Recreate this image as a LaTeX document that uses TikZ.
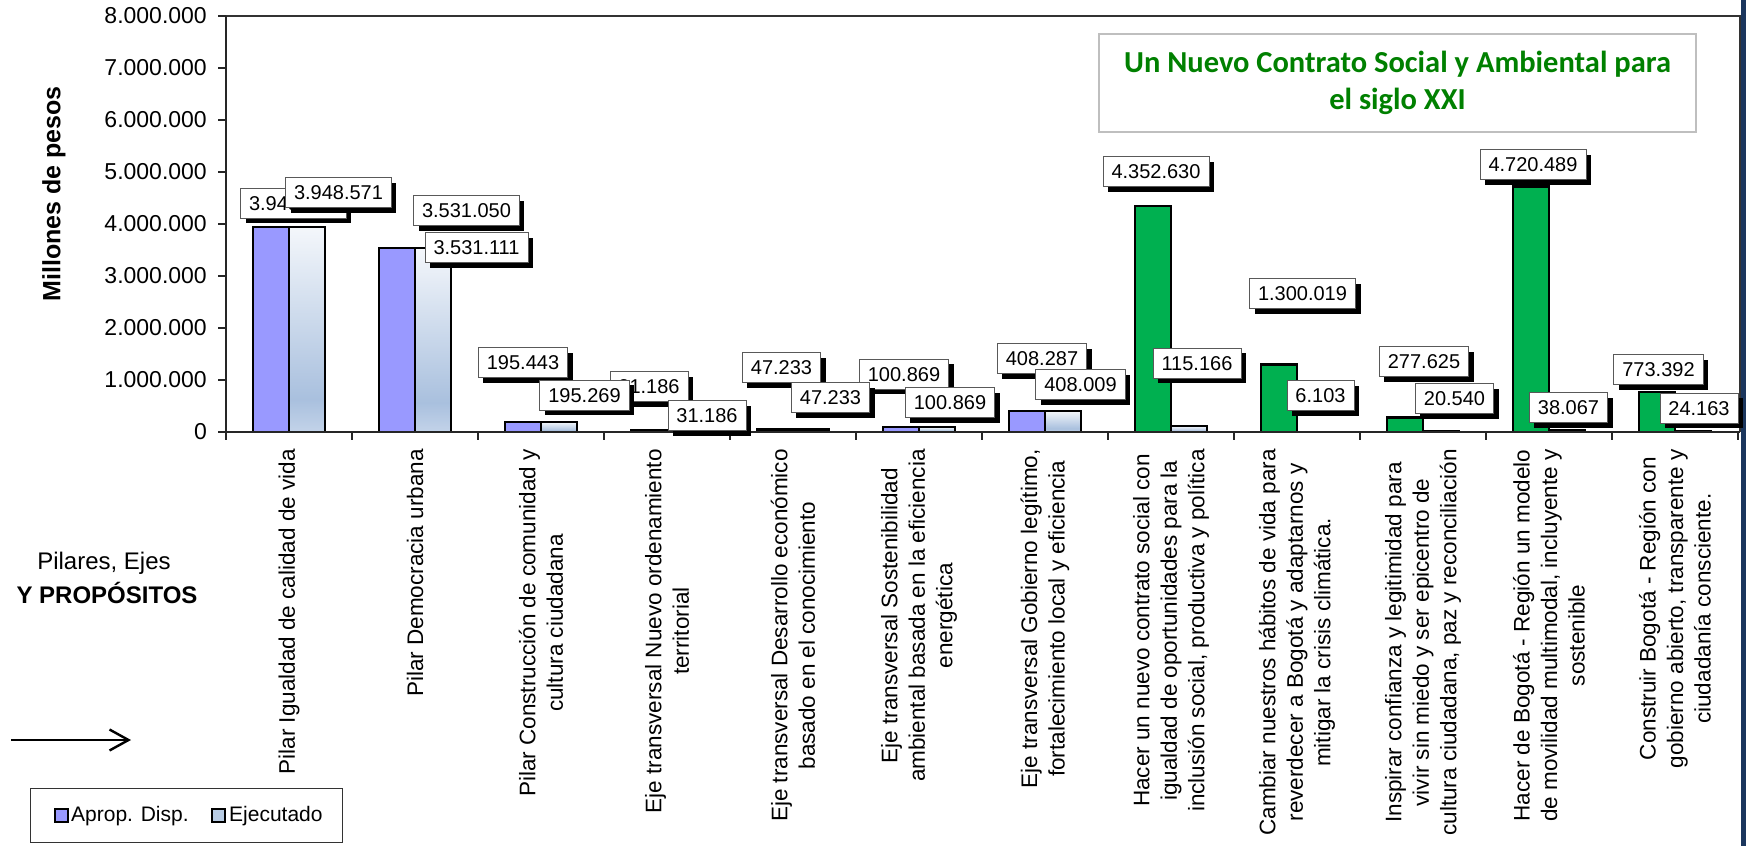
\documentclass[tikz,border=0pt]{standalone}
\usepackage{fontspec}
\setmainfont{Liberation Sans}
\newfontfamily\titlefont{Carlito}
\usetikzlibrary{arrows.meta,shadows}
\definecolor{apropc}{HTML}{9999FF}
\definecolor{greenc}{HTML}{00B050}
\definecolor{ejtop}{HTML}{F4F7FB}
\definecolor{ejdark}{HTML}{A9C0DE}
\definecolor{ejbot}{HTML}{C3D3E9}
\definecolor{ejleg}{HTML}{B8CCE4}
\definecolor{titlegreen}{HTML}{008000}
\definecolor{navyc}{HTML}{1B365D}
\pgfdeclareverticalshading{ejshade}{100bp}{color(0bp)=(ejbot); color(25bp)=(ejbot); color(33bp)=(ejdark); color(75bp)=(ejtop); color(100bp)=(ejtop)}
\begin{document}
\begin{tikzpicture}[x=1pt,y=-1pt,
  barstyle/.style={draw=black, line width=2.2pt},
  axisline/.style={draw=black!85, line width=1.8pt},
  tickline/.style={draw=black!85, line width=1.2pt},
  ticklab/.style={anchor=east, inner sep=0pt, font=\fontsize{23}{27}\selectfont},
  dlabel/.style={draw=black!65, line width=0.8pt, fill=white, inner xsep=8.5pt, inner ysep=0pt,
     minimum height=30pt, text height=14.5pt, text depth=0pt, font=\fontsize{20}{24}\selectfont,
     drop shadow={shadow xshift=5pt, shadow yshift=-5pt, fill=black, opacity=1}},
  catlab/.style={rotate=90, anchor=east, align=center, inner sep=0pt, font=\fontsize{22.5}{27.5}\selectfont},
  legsq/.style={draw=black, line width=1.3pt}
]
\useasboundingbox (0,0) rectangle (1746,846);
\clip (0,0) rectangle (1746,846);
\fill[white] (0,0) rectangle (1746,846);
% right navy strip
\fill[navyc] (1741,0) rectangle (1746,846);

% plot area border
\draw[draw=black!80, line width=1.6pt] (226,16) -- (1740,16) -- (1740,432);

% bars
\foreach \k/\a/\e/\fc in {0/3.948571/3.948571/apropc, 1/3.531050/3.531111/apropc,
  2/0.195443/0.195269/apropc, 3/0.031186/0.031186/apropc, 4/0.047233/0.047233/apropc,
  5/0.100869/0.100869/apropc, 6/0.408287/0.408009/apropc, 7/4.352630/0.115166/greenc,
  8/1.300019/0.006103/greenc, 9/0.277625/0.020540/greenc, 10/4.720489/0.038067/greenc,
  11/0.773392/0.024163/greenc}{
  \pgfmathsetmacro\cx{289+126*\k}
  \draw[barstyle, fill=\fc] ({\cx-36},432) rectangle (\cx,{432-52*\a});
  \draw[barstyle, shade, shading=ejshade] (\cx,432) rectangle ({\cx+36},{432-52*\e});
}

% value axis
\coordinate (vtop) at (226,16);
\coordinate (vbot) at (226,432);
\draw[axisline] (vtop) -- (vbot);
\foreach \i/\t in {0/0,1/1.000.000,2/2.000.000,3/3.000.000,4/4.000.000,5/5.000.000,6/6.000.000,7/7.000.000,8/8.000.000}{
  \draw[tickline] (218,{432-52*\i}) -- (226,{432-52*\i});
  \node[ticklab] (yt\i) at (207,{432-52*\i}) {\t};
}
% category axis
\coordinate (cleft) at (226,432);
\coordinate (cright) at (1740,432);
\draw[axisline] (cleft) -- (cright);
\foreach \k in {0,...,12}{
  \draw[tickline] ({226+126*\k},432) -- ({226+126*\k},440);
}

% data labels: Aprop. Disp.
\node[dlabel] (a1) at (293.5,203) {3.948.571};
\node[dlabel] (a2) at (466.5,210.5) {3.531.050};
\node[dlabel] (a3) at (523,362.5) {195.443};
\node[dlabel] (a4) at (649,386.5) {31.186};
\node[dlabel] (a5) at (781.5,367.5) {47.233};
\node[dlabel] (a6) at (904,374) {100.869};
\node[dlabel] (a7) at (1042,358.5) {408.287};
\node[dlabel] (a8) at (1156,171.5) {4.352.630};
\node[dlabel] (a9) at (1302.5,293.5) {1.300.019};
\node[dlabel] (a10) at (1424,361.5) {277.625};
\node[dlabel] (a11) at (1533,164.5) {4.720.489};
\node[dlabel] (a12) at (1658.5,369.5) {773.392};
% data labels: Ejecutado
\node[dlabel] (e1) at (338.5,192.5) {3.948.571};
\node[dlabel] (e2) at (476.5,247.5) {3.531.111};
\node[dlabel] (e3) at (584.5,395) {195.269};
\node[dlabel] (e4) at (707,415.5) {31.186};
\node[dlabel] (e5) at (830.5,397.5) {47.233};
\node[dlabel] (e6) at (950,402.5) {100.869};
\node[dlabel] (e7) at (1080.5,384.5) {408.009};
\node[dlabel] (e8) at (1197,363) {115.166};
\node[dlabel] (e9) at (1320.5,395.5) {6.103};
\node[dlabel] (e10) at (1454.5,398.5) {20.540};
\node[dlabel] (e11) at (1568.5,407.5) {38.067};
\node[dlabel] (e12) at (1699,408) {24.163};

% category labels
\node[catlab] (c1) at (289,449) {Pilar Igualdad de calidad de vida};
\node[catlab] (c2) at (415,449) {Pilar Democracia urbana};
\node[catlab] (c3) at (541,449) {Pilar Construcción de comunidad y\\cultura ciudadana};
\node[catlab] (c4) at (667,449) {Eje transversal Nuevo ordenamiento\\territorial};
\node[catlab] (c5) at (793,449) {Eje transversal Desarrollo económico\\basado en el conocimiento};
\node[catlab] (c6) at (919,449) {Eje transversal Sostenibilidad\\ambiental basada en la eficiencia\\energética};
\node[catlab] (c7) at (1045,449) {Eje transversal Gobierno legítimo,\\fortalecimiento local y eficiencia};
\node[catlab] (c8) at (1171,449) {Hacer un nuevo contrato social con\\igualdad de oportunidades para la\\inclusión social, productiva y política};
\node[catlab] (c9) at (1297,449) {Cambiar nuestros hábitos de vida para\\reverdecer a Bogotá y adaptarnos y\\mitigar la crisis climática.};
\node[catlab] (c10) at (1423,449) {Inspirar confianza y legitimidad para\\vivir sin miedo y ser epicentro de\\cultura ciudadana, paz y reconciliación};
\node[catlab] (c11) at (1549,449) {Hacer de Bogotá - Región un modelo\\de movilidad multimodal, incluyente y\\sostenible};
\node[catlab] (c12) at (1675,449) {Construir Bogotá - Región con\\gobierno abierto, transparente y\\ciudadanía consciente.};

% axis title
\node[rotate=90, inner sep=0pt, font=\bfseries\fontsize{25}{30}\selectfont] (ytitle) at (54,194) {Millones de pesos};

% side text
\node[inner sep=0pt, font=\fontsize{24}{28}\selectfont] (pil) at (104,563) {Pilares, Ejes};
\node[inner sep=0pt, font=\bfseries\fontsize{24}{28}\selectfont] (prop) at (107,593) {Y PROPÓSITOS};
\coordinate (arrs) at (11,740);
\coordinate (arre) at (131,740);
\draw[line width=2.4pt, -{Straight Barb[length=19pt,width=21pt,line width=2.4pt]}] (arrs) -- (arre);

% legend
\node[draw=black!80, line width=1pt, minimum width=312pt, minimum height=54pt, anchor=north west, inner sep=0pt] (legend) at (30,788) {};
\draw[legsq, fill=apropc] (55,809) rectangle (68,822);
\node[anchor=west, inner sep=0pt, font=\fontsize{21}{25}\selectfont] (lega) at (71,816) {Aprop. Disp.};
\draw[legsq, fill=ejleg] (212,809) rectangle (225,822);
\node[anchor=west, inner sep=0pt, font=\fontsize{21}{25}\selectfont] (lege) at (229,816) {Ejecutado};

% title box
\node[draw=black!25, line width=2pt, minimum width=597pt, minimum height=98pt, anchor=north west, inner sep=0pt] (tbox) at (1098,33) {};
\node[align=center, inner sep=0pt, text=titlegreen, font=\titlefont\bfseries\fontsize{30.5}{37}\selectfont] (ttext) at (tbox.center) {Un Nuevo Contrato Social y Ambiental para\\el siglo XXI};
\end{tikzpicture}
\end{document}
